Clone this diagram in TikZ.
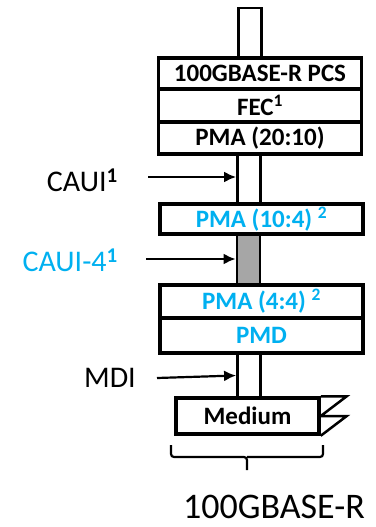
\documentclass[tikz,border=0pt]{standalone}
\usepackage{fontspec}
\setmainfont{Carlito}
\usetikzlibrary{arrows.meta}
\definecolor{ieeeblue}{HTML}{00B0F0}
\definecolor{lanegrey}{HTML}{A6A6A6}
\begin{document}
\begin{tikzpicture}[x=1pt,y=-1pt,
  layerbox/.style={draw, line width=3.5pt, rectangle, inner sep=0pt, fill=white,
    minimum width=203pt, font=\fontsize{25}{25}\selectfont\bfseries, text=black},
  bluebox/.style={layerbox, text=ieeeblue},
  lane/.style={draw, line width=2.8pt, rectangle, inner sep=0pt, minimum width=23pt, fill=white},
  lbl/.style={font=\fontsize{30}{30}\selectfont, inner sep=0pt, anchor=east},
  arr/.style={-{Latex[length=12pt,width=11pt]}, line width=2.2pt},
  thinline/.style={line width=2.2pt}]
\useasboundingbox (0,0) rectangle (375,527);
% lanes
\node[lane, minimum height=50pt] (lanetop) at (250,33) {};
\node[lane, minimum height=50pt] (lanecaui) at (249,179) {};
\node[lane, minimum height=51pt, fill=lanegrey] (lanecaui4) at (248.5,259.5) {};
\node[lane, minimum height=45pt] (lanemdi) at (249,375.5) {};
% stack
\node[layerbox, minimum height=31pt] (pcs) at (260,73.5) {100GBASE-R PCS};
\node[layerbox, minimum height=33pt] (fec) at (260,105.5) {FEC\textsuperscript{1}};
\node[layerbox, minimum height=32pt] (pma1) at (260,138) {PMA (20:10)};
\node[bluebox, minimum height=30pt] (pma2) at (261.5,219) {PMA (10:4) \textsuperscript{2}};
\node[bluebox, minimum height=33pt] (pma3) at (261.5,301.5) {PMA (4:4) \textsuperscript{2}};
\node[bluebox, minimum height=35pt] (pmd) at (261.5,335.5) {PMD};
\node[layerbox, minimum width=143pt, minimum height=36pt] (medium) at (247.5,416) {Medium};
% medium flag
\draw[line width=2.5pt, line join=miter] (medium.north east) -- ++(26,0) -- (medium.east) -- ++(26,0) -- (medium.south east);
% labels
\node[lbl] (caui) at (118,180) {CAUI\textsuperscript{\bfseries 1}};
\node[lbl, text=ieeeblue] (caui4) at (118,260) {CAUI-4\textsuperscript{\bfseries 1}};
\node[lbl] (mdi) at (136,378) {MDI};
\coordinate (cauitail) at (148,177);
\coordinate (caui4tail) at (146,259);
\coordinate (mditail) at (157,378);
\draw[arr] (cauitail) -- (cauitail -| lanecaui.west);
\draw[arr] (caui4tail) -- (caui4tail -| lanecaui4.west);
\draw[arr] (mditail) -- (lanemdi.west);
% brace
\draw[thinline, rounded corners=3pt] (171,445) -- (171,457) -- (247,457) -- (247,470);
\draw[thinline, rounded corners=3pt] (323,445) -- (323,457) -- (247,457);
\node[font=\fontsize{36}{36}\selectfont, inner sep=0pt, text depth=0pt, anchor=base] (phy) at (274,518) {100GBASE-R};
\end{tikzpicture}
\end{document}
